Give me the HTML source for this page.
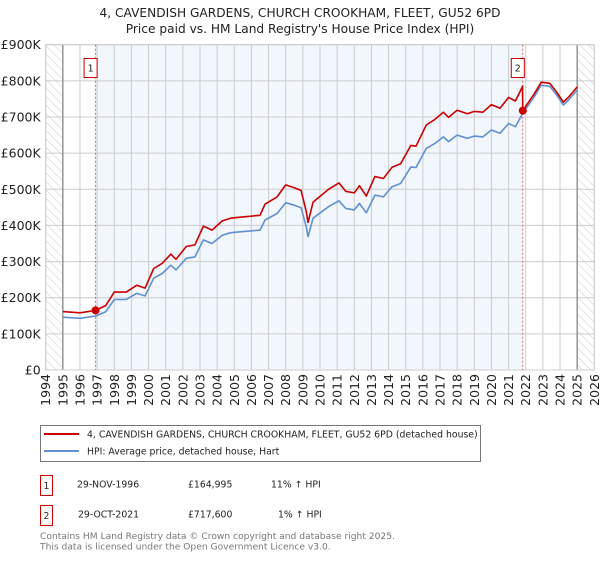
<!DOCTYPE html>
<html><head><meta charset="utf-8">
<style>
body{margin:0;background:#fff;font-family:"DejaVu Sans","Liberation Sans",sans-serif;}
svg text{font-family:"DejaVu Sans","Liberation Sans",sans-serif;}
</style></head>
<body>
<svg id="c" width="600" height="560" viewBox="0 0 600 560">
<defs>
<pattern id="hatch" width="6" height="6" patternUnits="userSpaceOnUse" patternTransform="rotate(-45)">
<line x1="0" y1="0" x2="0" y2="6" stroke="#ccc" stroke-width="1"/>
</pattern>
</defs>
<text x="300" y="17" text-anchor="middle" font-size="12.2" fill="#222">4, CAVENDISH GARDENS, CHURCH CROOKHAM, FLEET, GU52 6PD</text>
<text x="300" y="33" text-anchor="middle" font-size="12.2" fill="#222">Price paid vs. HM Land Registry's House Price Index (HPI)</text>
<g id="plot"></g>
<g>
<rect x="40.5" y="425.5" width="440" height="36" fill="#fff" stroke="#777"/>
<line x1="44" y1="434" x2="79" y2="434" stroke="#cc0000" stroke-width="2"/>
<text x="87" y="437.5" font-size="9.3" fill="#222">4, CAVENDISH GARDENS, CHURCH CROOKHAM, FLEET, GU52 6PD (detached house)</text>
<line x1="44" y1="451" x2="79" y2="451" stroke="#6090d0" stroke-width="2"/>
<text x="87" y="454.5" font-size="9.3" fill="#222">HPI: Average price, detached house, Hart</text>
</g>
<g font-size="9.3" fill="#222">
<rect x="40.5" y="475.5" width="12" height="20" fill="#fff" stroke="#cc0000"/>
<text x="46.5" y="489" text-anchor="middle">1</text>
<text x="77" y="487.5">29-NOV-1996</text>
<text x="188" y="487.5">£164,995</text>
<text x="271" y="487.5">11% ↑ HPI</text>
<rect x="40.5" y="505.5" width="12" height="20" fill="#fff" stroke="#cc0000"/>
<text x="46.5" y="519" text-anchor="middle">2</text>
<text x="78" y="517.5">29-OCT-2021</text>
<text x="188" y="517.5">£717,600</text>
<text x="278" y="517.5">1% ↑ HPI</text>
</g>
<text x="40" y="539" font-size="9.15" fill="#777">Contains HM Land Registry data © Crown copyright and database right 2025.</text>
<text x="40" y="549.5" font-size="9.15" fill="#777">This data is licensed under the Open Government Licence v3.0.</text>
</svg>
<script>
const hpiYears=[1995,1996,1996.9,1997.5,1998,1998.7,1999.3,1999.8,2000.3,2000.8,2001.3,2001.6,2002.2,2002.7,2003.2,2003.7,2004.3,2004.8,2005.5,2006.5,2006.8,2007.5,2008,2008.5,2008.9,2009.2,2009.3,2009.6,2010.5,2011.1,2011.5,2012,2012.3,2012.7,2013.2,2013.7,2014.2,2014.7,2015.3,2015.6,2016.2,2016.7,2017.2,2017.5,2018,2018.6,2019,2019.5,2020,2020.5,2021,2021.4,2021.8,2022.5,2022.9,2023.4,2023.8,2024.2,2024.5,2025];
const hpiValues=[146,143,149,161,195,195,212,205,254,267,290,277,309,313,360,350,373,380,383,387,415,433,463,456,449,396,369,420,452,468,447,443,461,435,484,479,507,516,562,560,613,627,645,632,650,641,647,645,664,655,682,673,708,756,788,785,761,733,747,775];
const saleYears=[1996.91,2021.83];
const salePrices=[164.995,717.6];
const saleLabels=["1","2"];
const yTicks=[0,100,200,300,400,500,600,700,800,900];
const yTickLabels=["£0","£100K","£200K","£300K","£400K","£500K","£600K","£700K","£800K","£900K"];
const xTicks=[1994,1995,1996,1997,1998,1999,2000,2001,2002,2003,2004,2005,2006,2007,2008,2009,2010,2011,2012,2013,2014,2015,2016,2017,2018,2019,2020,2021,2022,2023,2024,2025,2026];

const NS="http://www.w3.org/2000/svg";
const X0=45.7,X1=594.3,Y0=370,Y1=44.7;
const xs=y=>X0+(y-1994)/(2026-1994)*(X1-X0);
const ys=v=>Y0-v/900*(Y0-Y1);
const g=document.getElementById('plot');
function mk(t,a){const e=document.createElementNS(NS,t);for(const k in a)e.setAttribute(k,a[k]);g.appendChild(e);return e;}
function hpiAt(t){for(let i=0;i<hpiYears.length-1;i++){if(t>=hpiYears[i]&&t<=hpiYears[i+1]){const f=(t-hpiYears[i])/(hpiYears[i+1]-hpiYears[i]);return hpiValues[i]+f*(hpiValues[i+1]-hpiValues[i]);}}return hpiValues[hpiValues.length-1];}

let e;
e=mk('rect',{x:X0,y:Y1,width:X1-X0,height:Y0-Y1,fill:'#fff'});


e=mk('rect',{x:xs(saleYears[0]),y:Y1,width:xs(saleYears[1])-xs(saleYears[0]),height:Y0-Y1,fill:'#f2f6fd'});


e=mk('rect',{x:X0,y:Y1,width:xs(1995)-X0,height:Y0-Y1,fill:'url(#hatch)'});


e=mk('rect',{x:xs(2025),y:Y1,width:X1-xs(2025),height:Y0-Y1,fill:'url(#hatch)'});



yTicks.forEach((v,i)=>{
  e=mk('line',{x1:X0,x2:X1,y1:ys(v),y2:ys(v),stroke:'#ccc','stroke-width':1});
  
  
  e=mk('text',{x:X0-5,y:ys(v)+4.5,'text-anchor':'end','font-size':'12.5',fill:'#222'});
  e.textContent=yTickLabels[i];
  
  
});
xTicks.forEach(t=>{
  e=mk('line',{x1:xs(t),x2:xs(t),y1:Y1,y2:Y0,stroke:'#ccc','stroke-width':1});
  
  
  e=mk('text',{transform:`translate(${xs(t)+4.5},${Y0+4}) rotate(-90)`,'text-anchor':'end','font-size':'12.5',fill:'#222'});
  e.textContent=String(t);
  
  
});
[1995,2025].forEach(t=>{
  e=mk('line',{x1:xs(t),x2:xs(t),y1:Y1,y2:Y0,stroke:'#888','stroke-width':1.3});
  
  
});
e=mk('rect',{x:X0,y:Y1,width:X1-X0,height:Y0-Y1,fill:'none',stroke:'#ccc'});



saleYears.forEach((t,i)=>{
  e=mk('line',{x1:xs(t),x2:xs(t),y1:Y1,y2:Y0,stroke:'#e06060','stroke-width':1,'stroke-dasharray':'2,2'});
  
  
  e=mk('rect',{x:xs(t)-11.5,y:58.5,width:13,height:19,fill:'#fff',stroke:'#cc0000'});
  
  
  e=mk('text',{x:xs(t)-5,y:71.5,'text-anchor':'middle','font-size':'9.5',fill:'#222'});
  e.textContent=saleLabels[i];
  
  
});

const hpiPts=hpiYears.map((t,i)=>xs(t).toFixed(1)+','+ys(hpiValues[i]).toFixed(1)).join(' ');
e=mk('polyline',{points:hpiPts,fill:'none',stroke:'#6090d0','stroke-width':1.6,'stroke-linejoin':'round'});



const k1=salePrices[0]/hpiAt(saleYears[0]), k2=salePrices[1]/hpiAt(saleYears[1]);
const redPts=[];
hpiYears.forEach((t,i)=>{ if(t<saleYears[1]) redPts.push([t,hpiValues[i]*k1]); });
redPts.push([saleYears[1]-0.02,hpiAt(saleYears[1])*k1]);
redPts.push([saleYears[1],salePrices[1]]);
hpiYears.forEach((t,i)=>{ if(t>saleYears[1]) redPts.push([t,hpiValues[i]*k2]); });
e=mk('polyline',{points:redPts.map(p=>xs(p[0]).toFixed(1)+','+ys(p[1]).toFixed(1)).join(' '),fill:'none',stroke:'#cc0000','stroke-width':1.6,'stroke-linejoin':'round'});



saleYears.forEach((t,i)=>{
  e=mk('circle',{cx:xs(t),cy:ys(salePrices[i]),r:4,fill:'#cc0000'});
  
  
});
</script>
</body></html>
